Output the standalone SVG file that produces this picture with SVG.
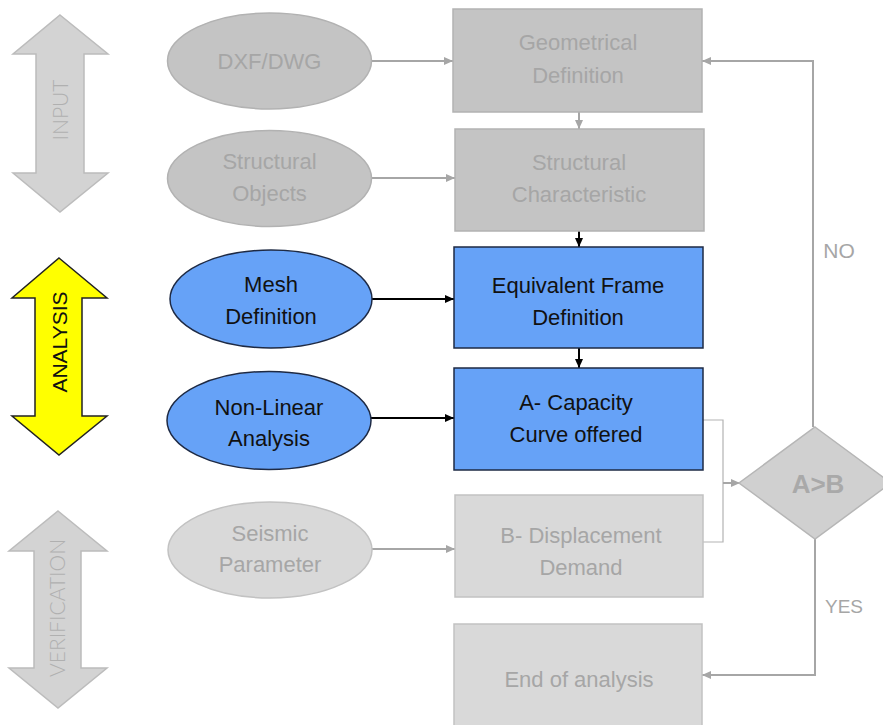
<svg xmlns="http://www.w3.org/2000/svg" width="883" height="725" viewBox="0 0 883 725">
  <style>
    .t { font-family: "Liberation Sans", Arial, sans-serif; font-size: 22px; text-anchor: middle; }
    .tg { fill: #a6a6a6; }
    .tb { fill: #111111; }
    .top { fill: #c4c4c4; stroke: #b2b2b2; stroke-width: 1.5; }
    .low { fill: #d9d9d9; stroke: #c2c2c2; stroke-width: 1.5; }
    .blue { fill: #66a2f7; stroke: #1e2a44; stroke-width: 1.5; }
    .side { fill: #d3d3d3; stroke: #bcbcbc; stroke-width: 1.5; }
    .lbl { font-family: "Lato", "Liberation Sans", sans-serif; font-weight: 300; font-size: 21px; text-anchor: middle; fill: #b0b0b0; }
    .cg { fill: none; stroke: #a6a6a6; stroke-width: 2; }
    .cb { fill: none; stroke: #000000; stroke-width: 2; }
    .ct { fill: none; stroke: #b3b3b3; stroke-width: 1.2; }
  </style>
  <defs>
    <marker id="ag" markerUnits="userSpaceOnUse" markerWidth="10" markerHeight="10" refX="9" refY="5" orient="auto">
      <path d="M0,1 L9,5 L0,9 Z" fill="#a6a6a6"/>
    </marker>
    <marker id="ab" markerUnits="userSpaceOnUse" markerWidth="10" markerHeight="10" refX="9" refY="5" orient="auto">
      <path d="M0,1 L9,5 L0,9 Z" fill="#000000"/>
    </marker>
  </defs>

  <rect x="0" y="0" width="883" height="725" fill="#ffffff"/>

  <!-- stage arrows -->
  <g id="stage-input">
    <polygon class="side" points="60,15 108,54 84,54 84,173 108,173 60,212 13,173 36,173 36,54 13,54"/>
    <text class="lbl" transform="translate(60,110) rotate(-90)" y="7.5">INPUT</text>
  </g>
  <g id="stage-analysis">
    <polygon points="59,258 107,298 82,298 82,416 107,416 59,455 12,416 35,416 35,298 12,298" fill="#ffff00" stroke="#222222" stroke-width="1.5"/>
    <text class="lbl" style="fill:#111111;font-family:'Liberation Sans',Arial,sans-serif;font-weight:400" transform="translate(59,342) rotate(-90)" y="8">ANALYSIS</text>
  </g>
  <g id="stage-verification">
    <polygon class="side" points="58,511 107,551 81,551 81,668 107,668 58,708 9,668 34,668 34,551 9,551"/>
    <text class="lbl" transform="translate(58,608) rotate(-90)" y="7">VERIFICATION</text>
  </g>

  <!-- connectors -->
  <g id="connectors">
    <path class="cg" d="M372,61 H453" marker-end="url(#ag)"/>
    <path class="cg" d="M372,178 H455" marker-end="url(#ag)"/>
    <path class="cg" d="M579,112 V129" marker-end="url(#ag)"/>
    <path class="cb" d="M579,231 V247" marker-end="url(#ab)"/>
    <path class="cb" d="M372,299 H454" marker-end="url(#ab)"/>
    <path class="cb" d="M371,418 H454" marker-end="url(#ab)"/>
    <path class="cb" d="M579,348 V368" marker-end="url(#ab)"/>
    <path class="cg" d="M372,549 H455" marker-end="url(#ag)"/>
    <path class="ct" d="M703,420 H723 V542 H703"/>
    <path class="cg" d="M723,483 H740" marker-end="url(#ag)"/>
    <path class="cg" d="M813,427 V61 H702" marker-end="url(#ag)"/>
    <path class="cg" d="M815,539 V675 H702" marker-end="url(#ag)"/>
  </g>

  <!-- input nodes -->
  <g id="dxf-dwg">
    <ellipse class="top" cx="269.5" cy="61" rx="102" ry="48"/>
    <text class="t tg" x="269.5" y="69">DXF/DWG</text>
  </g>
  <g id="structural-objects">
    <ellipse class="top" cx="269.5" cy="178.5" rx="102" ry="48"/>
    <text class="t tg" x="269.5" y="169">Structural</text>
    <text class="t tg" x="269.5" y="201">Objects</text>
  </g>
  <g id="geometrical-definition">
    <rect class="top" x="453" y="9" width="249" height="103"/>
    <text class="t tg" x="578" y="50">Geometrical</text>
    <text class="t tg" x="578" y="83">Definition</text>
  </g>
  <g id="structural-characteristic">
    <rect class="top" x="455" y="129" width="249" height="102"/>
    <text class="t tg" x="579" y="170">Structural</text>
    <text class="t tg" x="579" y="202">Characteristic</text>
  </g>

  <!-- analysis nodes -->
  <g id="mesh-definition">
    <ellipse class="blue" cx="271" cy="299" rx="101" ry="49"/>
    <text class="t tb" x="271" y="292">Mesh</text>
    <text class="t tb" x="271" y="324">Definition</text>
  </g>
  <g id="non-linear-analysis">
    <ellipse class="blue" cx="269" cy="420.5" rx="102" ry="49"/>
    <text class="t tb" x="269" y="415">Non-Linear</text>
    <text class="t tb" x="269" y="446">Analysis</text>
  </g>
  <g id="equivalent-frame">
    <rect class="blue" x="454" y="247" width="249" height="101"/>
    <text class="t tb" x="578" y="293">Equivalent Frame</text>
    <text class="t tb" x="578" y="325">Definition</text>
  </g>
  <g id="capacity-curve">
    <rect class="blue" x="454" y="368" width="249" height="102"/>
    <text class="t tb" x="576" y="410">A- Capacity</text>
    <text class="t tb" x="576" y="442">Curve offered</text>
  </g>

  <!-- verification nodes -->
  <g id="seismic-parameter">
    <ellipse class="low" cx="270" cy="550" rx="102" ry="48"/>
    <text class="t tg" x="270" y="541">Seismic</text>
    <text class="t tg" x="270" y="572">Parameter</text>
  </g>
  <g id="displacement-demand">
    <rect class="low" x="455" y="495" width="248" height="102"/>
    <text class="t tg" x="581" y="543">B- Displacement</text>
    <text class="t tg" x="581" y="575">Demand</text>
  </g>
  <g id="end-of-analysis">
    <rect class="low" x="454" y="624" width="248" height="110"/>
    <text class="t tg" x="579" y="687">End of analysis</text>
  </g>
  <g id="check">
    <polygon points="815,427 891,483 815,539 739,483" fill="#d0d0d0" stroke="#b6b6b6" stroke-width="1.5"/>
    <text x="818" y="493" font-family="Liberation Sans, Arial, sans-serif" font-size="26" font-weight="bold" text-anchor="middle" fill="#a9a9a9">A&gt;B</text>
  </g>

  <!-- branch labels -->
  <g id="branch-labels">
    <text class="t tg" x="839" y="258" style="font-size:21px">NO</text>
    <text class="t tg" x="844" y="613" style="font-size:19px">YES</text>
  </g>
</svg>
